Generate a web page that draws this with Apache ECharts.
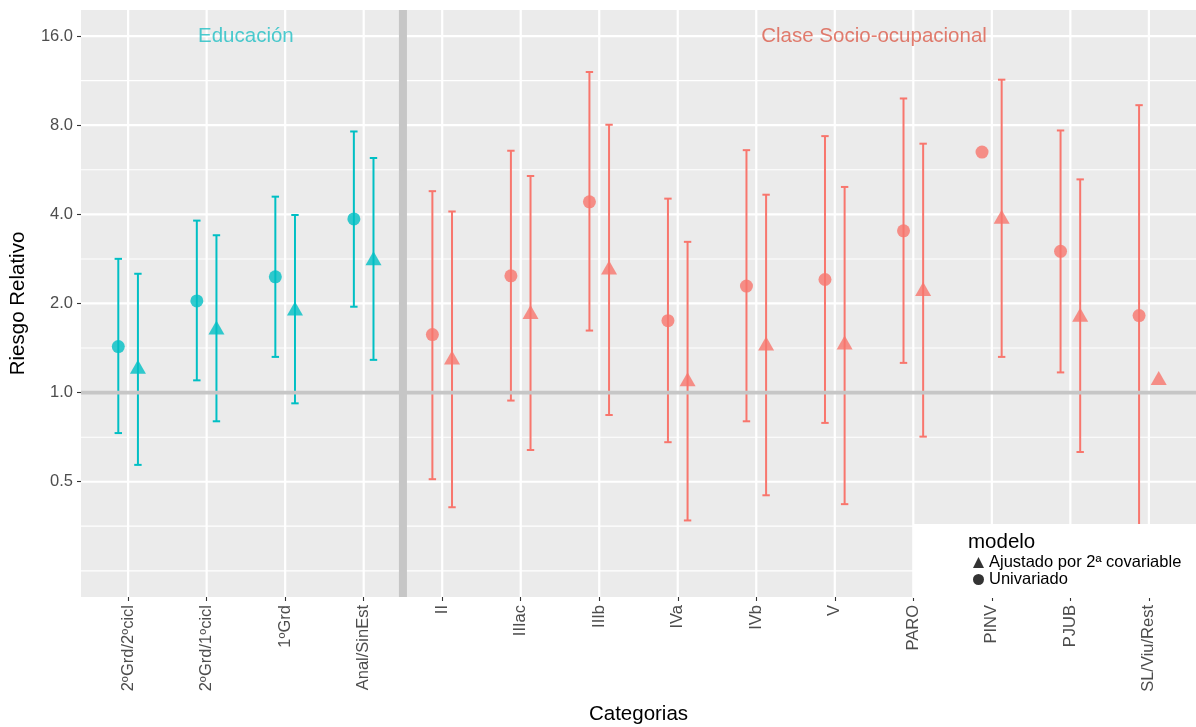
<!DOCTYPE html>
<html>
<head>
<meta charset="utf-8">
<script src="https://cdn.jsdelivr.net/npm/echarts@6/dist/echarts.min.js"></script>
<style>
  html, body { margin: 0; padding: 0; background: #fff; }
  #chart { width: 1196px; height: 727px; }
</style>
</head>
<body>
<div id="chart"></div>
<script>
// Categorías del eje X y grupo al que pertenece cada una
const categories = ['2ºGrd/2ºcicl', '2ºGrd/1ºcicl', '1ºGrd', 'Anal/SinEst', 'II', 'IIIac', 'IIIb',
                    'IVa', 'IVb', 'V', 'PARO', 'PINV', 'PJUB', 'SL/Viu/Rest'];
const categoryGroup = [0, 0, 0, 0, 1, 1, 1, 1, 1, 1, 1, 1, 1, 1];
const groupNames = ['Educación', 'Clase Socio-ocupacional'];

// Modelo univariado: riesgo relativo e intervalo de confianza
const uniRR = [1.43, 2.04, 2.46, 3.86, 1.57, 2.48, 4.41, 1.75, 2.29, 2.41, 3.52, 6.49, 3.00, 1.82];
const uniLo = [0.73, 1.10, 1.32, 1.95, 0.51, 0.94, 1.62, 0.68, 0.80, 0.79, 1.26, null, 1.17, 0.22];
const uniHi = [2.83, 3.81, 4.59, 7.62, 4.79, 6.56, 12.1, 4.52, 6.59, 7.35, 9.85, null, 7.68, 9.35];

// Modelo ajustado por la 2ª covariable
const adjRR = [1.20, 1.63, 1.89, 2.79, 1.29, 1.84, 2.60, 1.09, 1.44, 1.45, 2.20, 3.86, 1.80, 1.10];
const adjLo = [0.57, 0.80, 0.92, 1.29, 0.41, 0.64, 0.84, 0.37, 0.45, 0.42, 0.71, 1.32, 0.63, null];
const adjHi = [2.52, 3.40, 3.98, 6.20, 4.09, 5.39, 8.03, 3.23, 4.66, 4.95, 6.93, 11.4, 5.25, null];

// Marcas del eje Y (escala logarítmica en base 2)
const yTicks = [0.5, 1, 2, 4, 8, 16];
const yMinor = [0.25, 0.354, 0.707, 1.414, 2.828, 5.657, 11.314];

const groupColors = ['#00BFC4', '#F8766D'];
const labelColors = ['#1FBFC4', '#DC5C4B'];
const FONT = '"Liberation Sans", Arial, Helvetica, sans-serif';
const dodge = 0.125;
const catPos = categories.map((c, i) => i + 1);

const chart = echarts.init(document.getElementById('chart'), null, { renderer: 'canvas' });

// Intervalos de confianza como barras de error
const errData = [];
categories.forEach((c, i) => {
  if (uniLo[i] != null) errData.push([catPos[i] - dodge, uniLo[i], uniHi[i], categoryGroup[i]]);
  if (adjLo[i] != null) errData.push([catPos[i] + dodge, adjLo[i], adjHi[i], categoryGroup[i]]);
});

const uniData = categories.map((c, i) => ({
  value: [catPos[i] - dodge, uniRR[i]],
  itemStyle: { color: groupColors[categoryGroup[i]] }
}));
const adjData = categories.map((c, i) => ({
  value: [catPos[i] + dodge, adjRR[i]],
  itemStyle: { color: groupColors[categoryGroup[i]] }
}));

const hGrid = yTicks.map(v => [1, v, 1]).concat(yMinor.map(v => [1, v, 0]));
const vGrid = catPos.map(x => [x, 1]);

function hLine(params, api) {
  const cs = params.coordSys;
  const y = api.coord([1, api.value(1)])[1];
  return {
    type: 'line',
    shape: { x1: cs.x, y1: y, x2: cs.x + cs.width, y2: y },
    style: { stroke: '#FFFFFF', lineWidth: api.value(2) ? 2.2 : 1.1 }
  };
}
function vLine(params, api) {
  const cs = params.coordSys;
  const x = api.coord([api.value(0), 1])[0];
  return {
    type: 'line',
    shape: { x1: x, y1: cs.y, x2: x, y2: cs.y + cs.height },
    style: { stroke: '#FFFFFF', lineWidth: 2.2 }
  };
}

const option = {
  animation: false,
  backgroundColor: '#FFFFFF',
  textStyle: { fontFamily: FONT },
  grid: {
    left: 81, right: 0, top: 10, bottom: 130,
    show: true, backgroundColor: '#EBEBEB', borderWidth: 0,
    outerBoundsMode: 'none', containLabel: false
  },
  xAxis: {
    type: 'value', min: 0.4, max: 14.6,
    name: 'Categorias', nameLocation: 'middle', nameGap: 107,
    nameTextStyle: { color: '#000', fontSize: 20.5, fontFamily: FONT },
    axisLine: { show: false },
    splitLine: { show: false },
    axisTick: { show: true, customValues: catPos, length: 4, lineStyle: { color: '#333', width: 1.1 } },
    axisLabel: {
      customValues: catPos, rotate: 90, margin: 8,
      color: '#4D4D4D', fontSize: 16.5, fontFamily: FONT,
      formatter: v => categories[Math.round(v) - 1]
    }
  },
  yAxis: {
    type: 'log', logBase: 2, min: 0.204, max: 19.6,
    name: 'Riesgo Relativo', nameLocation: 'middle', nameGap: 52,
    nameTextStyle: { color: '#000', fontSize: 20.5, fontFamily: FONT },
    axisLine: { show: false },
    splitLine: { show: false },
    minorSplitLine: { show: false },
    axisTick: { show: true, customValues: yTicks, length: 4, lineStyle: { color: '#333', width: 1.1 } },
    axisLabel: {
      customValues: yTicks, margin: 8,
      color: '#4D4D4D', fontSize: 16.5, fontFamily: FONT,
      formatter: v => Number(v).toFixed(1)
    }
  },
  legend: {
    orient: 'vertical', left: 973, top: 554, z: 20, padding: 0,
    itemWidth: 11, itemHeight: 11, itemGap: 0,
    selectedMode: false,
    textStyle: { color: '#000', fontSize: 16.5, lineHeight: 16, fontFamily: FONT },
    data: [
      { name: 'Ajustado por 2ª covariable', icon: 'triangle', itemStyle: { color: '#000' } },
      { name: 'Univariado', icon: 'circle', itemStyle: { color: '#000' } }
    ]
  },
  graphic: [
    { type: 'rect', left: 913, top: 524, z: 15, silent: true,
      shape: { width: 284, height: 74 }, style: { fill: '#FFFFFF' } },
    { type: 'text', left: 968, top: 532, z: 20, silent: true,
      style: { text: 'modelo', fill: '#000', font: '20.5px ' + FONT } }
  ],
  series: [
    { type: 'custom', name: 'rejilla-h', silent: true, renderItem: hLine,
      data: hGrid, encode: { x: 0, y: 1 }, z: 1 },
    { type: 'custom', name: 'rejilla-v', silent: true, renderItem: vLine,
      data: vGrid, encode: { x: 0, y: 1 }, z: 1 },
    {
      type: 'custom', name: 'IC', silent: true, clip: true, z: 2,
      data: errData, encode: { x: 0, y: [1, 2] },
      renderItem(params, api) {
        const x = api.value(0);
        const pLo = api.coord([x, api.value(1)]);
        const pHi = api.coord([x, api.value(2)]);
        const style = { stroke: groupColors[api.value(3)], lineWidth: 2 };
        const half = 3.7;
        return {
          type: 'group',
          children: [
            { type: 'line', shape: { x1: pLo[0], y1: pLo[1], x2: pHi[0], y2: pHi[1] }, style },
            { type: 'line', shape: { x1: pLo[0] - half, y1: pLo[1], x2: pLo[0] + half, y2: pLo[1] }, style },
            { type: 'line', shape: { x1: pHi[0] - half, y1: pHi[1], x2: pHi[0] + half, y2: pHi[1] }, style }
          ]
        };
      }
    },
    {
      // Referencia RR = 1 y separación entre los dos bloques de variables
      type: 'custom', name: 'referencia', silent: true, z: 3,
      data: [[4.5, 1]], encode: { x: 0, y: 1 },
      renderItem(params, api) {
        const cs = params.coordSys;
        const p = api.coord([api.value(0), api.value(1)]);
        const style = { stroke: '#C6C6C6' };
        return {
          type: 'group',
          children: [
            { type: 'line', shape: { x1: p[0], y1: cs.y, x2: p[0], y2: cs.y + cs.height },
              style: Object.assign({ lineWidth: 8 }, style) },
            { type: 'line', shape: { x1: cs.x, y1: p[1], x2: cs.x + cs.width, y2: p[1] },
              style: Object.assign({ lineWidth: 3.6 }, style) }
          ]
        };
      }
    },
    {
      type: 'scatter', name: 'Univariado', symbol: 'circle', symbolSize: 13,
      data: uniData, z: 4, silent: true
    },
    {
      type: 'scatter', name: 'Ajustado por 2ª covariable', symbol: 'triangle',
      symbolSize: [16, 14], symbolOffset: [0, -2.3],
      data: adjData, z: 4, silent: true
    },
    {
      type: 'scatter', name: 'grupos', symbolSize: 0, silent: true, z: 5,
      data: [
        { value: [2.5, 16], name: groupNames[0], label: { color: labelColors[0] } },
        { value: [10.5, 16], name: groupNames[1], label: { color: labelColors[1] } }
      ],
      label: { show: true, position: 'inside', formatter: '{b}', fontSize: 20.5, fontFamily: FONT }
    }
  ]
};

chart.setOption(option);
</script>
</body>
</html>
